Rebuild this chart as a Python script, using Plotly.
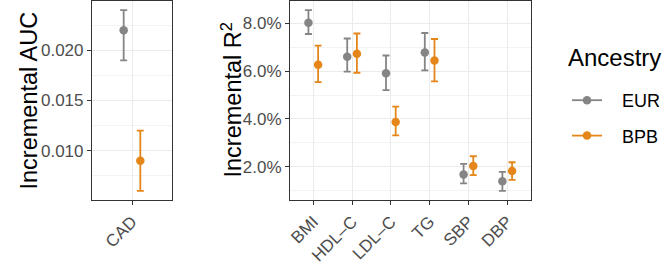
import plotly.graph_objects as go

# ---------------- data ----------------
auc_categories = ["CAD"]
auc_eur = [0.022]
auc_eur_lo = [0.019]
auc_eur_hi = [0.024]
auc_bpb = [0.009]
auc_bpb_lo = [0.006]
auc_bpb_hi = [0.012]

r2_categories = ["BMI", "HDL–C", "LDL–C", "TG", "SBP", "DBP"]
r2_eur = [8.02, 6.60, 5.91, 6.78, 1.68, 1.40]
r2_eur_lo = [7.55, 5.98, 5.20, 6.03, 1.31, 0.99]
r2_eur_hi = [8.55, 7.36, 6.65, 7.59, 2.12, 1.79]
r2_bpb = [6.26, 6.72, 3.87, 6.44, 2.03, 1.82]
r2_bpb_lo = [5.54, 5.93, 3.31, 5.57, 1.65, 1.45]
r2_bpb_hi = [7.06, 7.57, 4.51, 7.34, 2.44, 2.19]

auc_ticks = [0.010, 0.015, 0.020]
auc_minor = [0.0075, 0.0125, 0.0175, 0.0225]
r2_ticks = [0.02, 0.04, 0.06, 0.08]
r2_minor = [0.01, 0.03, 0.05, 0.07]

groups = ["EUR", "BPB"]
colors = {"EUR": "#858585", "BPB": "#E5861A"}

W, H = 664, 269
FONT = "Liberation Sans, Arial, Helvetica, sans-serif"
DODGE = 0.125
NBSP = "\u00a0"

fig = go.Figure()


def add_series(xaxis, yaxis, cats, vals, lo, hi, grp, scale=1.0):
    off = -DODGE if grp == "EUR" else DODGE
    xs = [i + off for i in range(len(cats))]
    ys = [v / scale for v in vals]
    up = [(h - v) / scale for h, v in zip(hi, vals)]
    dn = [(v - l) / scale for v, l in zip(vals, lo)]
    fig.add_trace(go.Scatter(
        x=xs, y=ys, mode="markers", xaxis=xaxis, yaxis=yaxis,
        marker=dict(color=colors[grp], size=8.5),
        error_y=dict(type="data", array=up, arrayminus=dn, symmetric=False,
                     color=colors[grp], thickness=1.8, width=3.5),
        showlegend=False, cliponaxis=False, hoverinfo="skip"))


add_series("x", "y", auc_categories, auc_eur, auc_eur_lo, auc_eur_hi, "EUR")
add_series("x", "y", auc_categories, auc_bpb, auc_bpb_lo, auc_bpb_hi, "BPB")
add_series("x2", "y2", r2_categories, r2_eur, r2_eur_lo, r2_eur_hi, "EUR", 100.0)
add_series("x2", "y2", r2_categories, r2_bpb, r2_bpb_lo, r2_bpb_hi, "BPB", 100.0)

# legend entries (line + point like ggplot keys)
for i, g in enumerate(groups):
    fig.add_trace(go.Scatter(
        x=[None], y=[None], mode="lines+markers", name=NBSP * 3 + g,
        line=dict(color=colors[g], width=1.8),
        marker=dict(color=colors[g], size=8.5),
        legendgroup=g, showlegend=True, xaxis="x2", yaxis="y2"))


def expand(lo, hi, frac=0.05):
    d = hi - lo
    return [lo - d * frac, hi + d * frac]


auc_range = expand(min(auc_eur_lo + auc_bpb_lo), max(auc_eur_hi + auc_bpb_hi))
r2_range = expand(min(r2_eur_lo + r2_bpb_lo) / 100, max(r2_eur_hi + r2_bpb_hi) / 100)

grid_major = "#EBEBEB"
frame = "#333333"
tickfont = dict(family=FONT, size=17, color="#4D4D4D")

common_x = dict(showline=True, mirror=True, linecolor=frame, linewidth=1.2,
                ticks="outside", ticklen=4, tickcolor=frame, tickwidth=1.2,
                tickangle=-45, tickfont=tickfont, showgrid=True,
                gridcolor=grid_major, gridwidth=1.1, zeroline=False,
                automargin=False)
common_y = dict(showline=True, mirror=True, linecolor=frame, linewidth=1.2,
                ticks="outside", ticklen=4, tickcolor=frame, tickwidth=1.2,
                tickfont=tickfont, showgrid=True, gridcolor=grid_major,
                gridwidth=1.1, zeroline=False, automargin=False)

y_bot = (H - 200) / H
y_top = (H - 1) / H

fig.update_layout(
    width=W, height=H,
    margin=dict(l=0, r=0, t=0, b=0, autoexpand=False),
    paper_bgcolor="white", plot_bgcolor="white",
    font=dict(family=FONT, color="black"),
    xaxis=dict(domain=[92 / W, 172 / W], range=[-0.6, len(auc_categories) - 1 + 0.6],
               tickvals=list(range(len(auc_categories))), ticktext=auc_categories,
               anchor="y", **common_x),
    yaxis=dict(domain=[y_bot, y_top], range=auc_range, tickvals=auc_ticks,
               ticktext=["0.010", "0.015", "0.020"], anchor="x",
               minor=dict(tickvals=auc_minor, showgrid=True, gridcolor="#F3F3F3",
                          gridwidth=0.6, ticks=""),
               **common_y),
    xaxis2=dict(domain=[290 / W, 530.5 / W], range=[-0.6, len(r2_categories) - 1 + 0.6],
                tickvals=list(range(len(r2_categories))), ticktext=r2_categories,
                anchor="y2", **common_x),
    yaxis2=dict(domain=[y_bot, y_top], range=r2_range, tickvals=r2_ticks,
                tickformat=".1%", anchor="x2",
                minor=dict(tickvals=r2_minor, showgrid=True, gridcolor="#F3F3F3",
                           gridwidth=0.6, ticks=""),
                **common_y),
    legend=dict(x=567 / W, xanchor="left", y=(H - 82) / H, yanchor="top",
                font=dict(family=FONT, size=18, color="black"),
                tracegroupgap=9, bgcolor="rgba(0,0,0,0)"),
    annotations=[
        dict(text="Incremental AUC", textangle=-90, x=13 / W, y=(H - 100.5) / H,
             xref="paper", yref="paper", showarrow=False,
             font=dict(family=FONT, size=23.5, color="black")),
        dict(text="Incremental R<sup>2</sup>", textangle=-90, x=214 / W, y=(H - 100.5) / H,
             xref="paper", yref="paper", showarrow=False,
             font=dict(family=FONT, size=23.5, color="black")),
        dict(text="Ancestry", x=566 / W, xanchor="left", y=(H - 57) / H, yanchor="middle",
             xref="paper", yref="paper", showarrow=False,
             font=dict(family=FONT, size=24, color="black")),
    ],
)

fig.write_html("out.html", config={"displayModeBar": False},
               post_script="document.body.style.margin='0';")
